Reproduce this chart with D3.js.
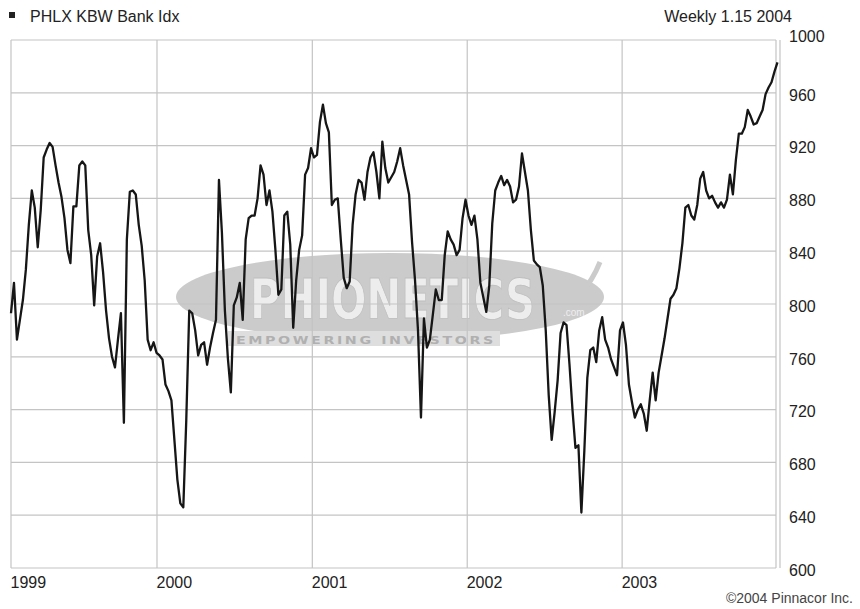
<!DOCTYPE html>
<html><head><meta charset="utf-8">
<script src="https://cdn.jsdelivr.net/npm/d3@7"></script>
<style>
body{margin:0;background:#fff;}
svg{display:block;font-family:"Liberation Sans",Arial,Helvetica,sans-serif;}
</style>
</head><body>
<svg id="chart" width="860" height="609"></svg>
<script>
// ---- data (weekly closes) ----
const title = "PHLX KBW Bank Idx";
const subtitle = "Weekly 1.15 2004";
const credit = "\u00A92004 Pinnacor Inc.";
const firstWeek = new Date(1999, 0, 22);
const lastDomain = new Date(2004, 0, 8);

const w1999 = [793,816,773,788,803,826,860,886,873,843,
  871,911,917,922,919,905,892,881,865,841,
  831,874,874,905,908,905,856,837,799,836,
  846,824,795,774,760,752,773,793,710,849,
  885,886,883,860,844,818,773,765,771,763];
const w2000 = [761,758,739,734,727,697,667,649,646,712,
  795,793,780,761,769,771,754,767,778,788,
  894,854,795,759,733,799,805,816,788,849,
  865,867,867,880,905,898,875,886,870,841,
  807,811,867,870,845,782,818,841,852,898,
  903,918];
const w2001 = [911,913,938,951,937,930,875,879,880,849,
  820,812,817,860,883,894,892,879,900,911,
  915,900,880,923,903,892,896,900,908,918,
  905,894,883,847,818,780,714,789,767,773,
  792,811,803,803,837,855,849,845,837,841,
  865,879];
const w2002 = [867,860,867,849,816,805,794,814,861,886,
  892,897,890,894,889,877,879,889,914,900,
  886,856,833,830,828,814,780,731,697,718,
  742,778,786,784,754,720,691,693,642,689,
  744,765,767,756,780,790,773,767,758,752,
  746,780];
const w2003 = [786,769,739,726,714,720,724,717,704,727,
  748,727,748,761,774,789,804,807,812,827,
  846,873,875,867,864,875,895,900,886,880,
  882,877,873,877,873,879,898,883,909,929,
  929,934,947,942,936,937,942,947,959,964,
  968,976];
const w2004 = [983];

const yTicks = [600,640,680,720,760,800,840,880,920,960,1000];
const yearTicks = [firstWeek, new Date(2000,0,1), new Date(2001,0,1), new Date(2002,0,1), new Date(2003,0,1)];

// ---- build ----
const values = [].concat(w1999, w2000, w2001, w2002, w2003, w2004);
const data = values.map((v, i) => ({date: d3.timeDay.offset(firstWeek, 7 * i), value: v}));

const svg = d3.select("#chart");
const L = 11, R = 776, T = 40, B = 568;
const x = d3.scaleTime().domain([firstWeek, lastDomain]).range([L, 780]);
const y = d3.scaleLinear().domain([600, 1000]).range([B, T]);

const grid = "#c4c4c4";

// watermark
const wm = svg.append("g").attr("class", "watermark");
wm.append("ellipse").attr("cx", 390).attr("cy", 297).attr("rx", 214).attr("ry", 44).attr("fill", "#cbcbcb");
wm.append("path").attr("d", "M548,318 Q585,300 600,262").attr("fill", "none").attr("stroke", "#cbcbcb").attr("stroke-width", 5);
wm.append("rect").attr("x", 228).attr("y", 331).attr("width", 272).attr("height", 15).attr("fill", "#dedede");
const big = wm.append("text").attr("x", 0).attr("y", 0)
  .attr("font-family", "DejaVu Sans").attr("font-weight", "bold").attr("font-size", 56)
  .attr("fill", "#ededed").attr("stroke", "#bdbdbd").attr("stroke-width", 0.8).text("PHIONETICS");
const natW = big.node().getComputedTextLength() || 420;
big.attr("transform", `translate(250,318) scale(${285 / natW},1)`);
wm.append("text").attr("x", 563).attr("y", 316).attr("font-size", 10).attr("fill", "#eeeeee").text(".com");
const small = wm.append("text").attr("x", 0).attr("y", 0)
  .attr("font-family", "DejaVu Sans").attr("font-weight", "bold").attr("font-size", 11)
  .attr("fill", "#b0b0b0").attr("letter-spacing", 2).text("EMPOWERING INVESTORS");
const smW = small.node().getComputedTextLength() || 260;
small.attr("transform", `translate(236,344) scale(${260 / smW},1)`);

// horizontal gridlines
svg.append("g").selectAll("line").data(yTicks).join("line")
  .attr("x1", L).attr("x2", R).attr("y1", d => y(d)).attr("y2", d => y(d))
  .attr("stroke", grid).attr("stroke-width", 1.2);

// vertical gridlines
svg.append("g").selectAll("line").data(yearTicks).join("line")
  .attr("x1", d => x(d)).attr("x2", d => x(d)).attr("y1", T).attr("y2", B)
  .attr("stroke", grid).attr("stroke-width", 1.2);

// right double border
svg.append("line").attr("x1", R).attr("x2", R).attr("y1", T).attr("y2", B).attr("stroke", grid).attr("stroke-width", 1.2);
svg.append("line").attr("x1", 780).attr("x2", 780).attr("y1", T).attr("y2", B).attr("stroke", grid).attr("stroke-width", 1.2);

// price line
svg.append("path").datum(data)
  .attr("fill", "none").attr("stroke", "#161616").attr("stroke-width", 2.3).attr("stroke-linejoin", "round")
  .attr("d", d3.line().x(d => x(d.date)).y(d => y(d.value)));

// y axis labels (right)
const yAx = svg.append("g").attr("transform", "translate(789,0)")
  .call(d3.axisRight(y).tickValues(yTicks).tickSize(0).tickPadding(0).tickFormat(d3.format("d")));
yAx.select(".domain").remove();
yAx.selectAll("text").attr("font-size", 16).attr("fill", "#222").attr("font-family", "Liberation Sans, Arial, sans-serif")
  .attr("dy", d => d === 1000 ? "0.1em" : "0.45em").attr("x", 0);

// x axis labels
const xAx = svg.append("g").attr("transform", `translate(0,${B})`)
  .call(d3.axisBottom(x).tickValues(yearTicks).tickSize(0).tickPadding(0).tickFormat(d3.timeFormat("%Y")));
xAx.select(".domain").remove();
xAx.selectAll("text").attr("font-size", 16).attr("fill", "#222").attr("font-family", "Liberation Sans, Arial, sans-serif")
  .attr("text-anchor", "start").attr("x", -1).attr("y", 20).attr("dy", 0);

// titles
svg.append("rect").attr("x", 9).attr("y", 12).attr("width", 6).attr("height", 6).attr("fill", "#222");
svg.append("text").attr("x", 30).attr("y", 22).attr("font-size", 16).attr("fill", "#222").text(title);
svg.append("text").attr("x", 792).attr("y", 22).attr("text-anchor", "end").attr("font-size", 16).attr("fill", "#222").text(subtitle);
svg.append("text").attr("x", 853).attr("y", 603).attr("text-anchor", "end").attr("font-size", 14).attr("fill", "#444").text(credit);
</script>
</body></html>
